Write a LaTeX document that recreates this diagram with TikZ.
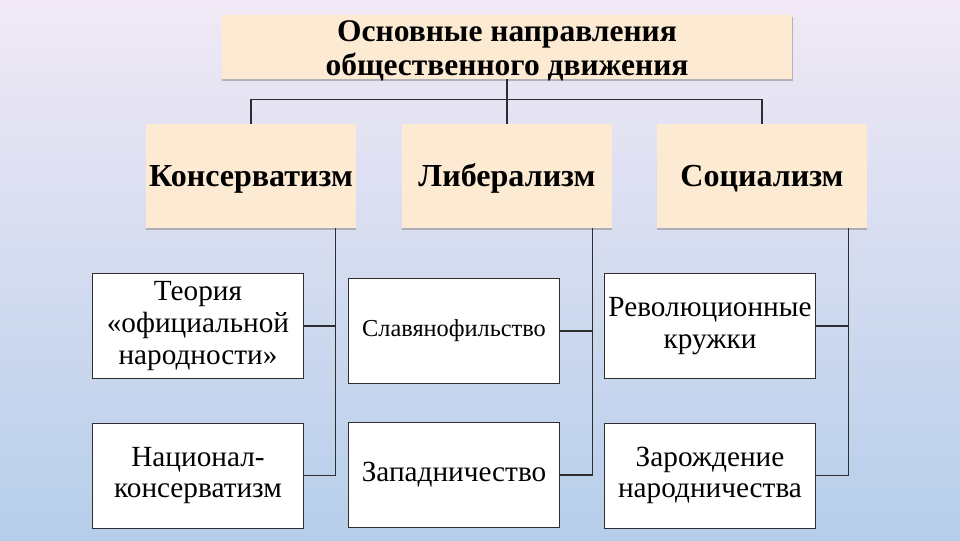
\documentclass[tikz,border=0pt]{standalone}
\usepackage{fontspec}
\setmainfont{Liberation Serif}
\usetikzlibrary{calc,shadows}
\definecolor{peach}{HTML}{FDEAD2}
\definecolor{bgtop}{HTML}{F1E9F5}
\definecolor{bgbot}{HTML}{B6CEEA}
\definecolor{wire}{HTML}{2E2E2E}
\tikzset{
  headbox/.style={fill=peach, minimum width=52.5mm, minimum height=26mm, inner sep=1pt,
    text height=15.6pt, text depth=0pt,
    font=\fontsize{22.8}{26}\selectfont\bfseries,
    drop shadow={shadow xshift=0.3pt, shadow yshift=-1.6pt, fill=black!50, opacity=0.5}},
  subbox/.style={fill=white, draw=wire, line width=0.7pt, minimum width=52.75mm, minimum height=26.25mm,
    inner sep=2pt, align=center, font=\fontsize{20.8}{22.5}\selectfont,
    drop shadow={shadow xshift=0.5pt, shadow yshift=-0.5pt, fill=black!40, opacity=0.2}},
  link/.style={draw=wire, line width=0.9pt}
}
\begin{document}
\begin{tikzpicture}[x=0.025cm, y=-0.025cm]
  \fill[top color=bgtop, bottom color=bgbot] (0,0) rectangle (960,540);
  \useasboundingbox (0,0) rectangle (960,540);

  \node[headbox, minimum width=142.5mm, minimum height=16mm] (main) at (507,47) {};
  \node[align=center, inner sep=0pt, font=\fontsize{22.4}{24.2}\selectfont\bfseries]
    (maintitle) at (507,51) {Основные направления\\общественного движения};

  \node[headbox] (cons) at (251,176) {Консерватизм};
  \node[headbox] (lib) at (507,176) {Либерализм};
  \node[headbox] (soc) at (762,176) {Социализм};

  \node[subbox] (teor) at (198,326) {Теория\\«официальной\\народности»};
  \node[subbox] (natc) at (198,475.5) {Национал-\\консерватизм};
  \node[subbox, font=\fontsize{17.3}{20}\selectfont] (slav) at (454,331) {Славянофильство};
  \node[subbox] (zap) at (454,475) {Западничество};
  \node[subbox] (rev) at (710,326) {Революционные\\кружки};
  \node[subbox] (zar) at (710,475.5) {Зарождение\\народничества};

  \coordinate (cspine) at ($(cons.south east)+(-21,0)$);
  \coordinate (lspine) at ($(lib.south east)+(-20,0)$);
  \coordinate (sspine) at ($(soc.south east)+(-19,0)$);

  \draw[link] (main.south) -- (lib.north);
  \draw[link] (cons.north) -- ++(0,-24) -| (soc.north);

  \draw[link] (cspine) |- (natc.east);
  \draw[link] (teor.east) -- (teor.east -| cspine);
  \draw[link] (lspine) |- (zap.east);
  \draw[link] (slav.east) -- (slav.east -| lspine);
  \draw[link] (sspine) |- (zar.east);
  \draw[link] (rev.east) -- (rev.east -| sspine);
\end{tikzpicture}
\end{document}
